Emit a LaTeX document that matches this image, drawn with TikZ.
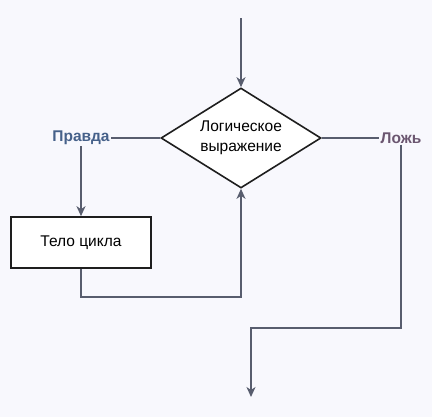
\documentclass[tikz,border=0pt]{standalone}
\usepackage{fontspec}
\setmainfont{Liberation Sans}
\usetikzlibrary{arrows.meta,shapes.geometric}
\definecolor{bg}{HTML}{F8F8FD}
\definecolor{ln}{HTML}{585D6E}
\definecolor{tru}{HTML}{46618A}
\definecolor{fal}{HTML}{6B5670}
\definecolor{bd}{HTML}{1E1E1E}
\tikzset{
  conn/.style={draw=ln, line width=1.6bp},
  arr/.style={conn, -{Stealth[length=10bp,width=9bp,inset=3bp]}},
  lbl/.style={font=\fontsize{15.5bp}{18bp}\selectfont\bfseries, inner sep=1bp, fill=bg},
  box/.style={draw=bd, fill=white, line width=1.6bp},
  txt/.style={font=\fontsize{15.5bp}{20bp}\selectfont, align=center, inner sep=0pt}
}
\begin{document}
\begin{tikzpicture}[x=1bp,y=-1bp]
\useasboundingbox[fill=bg] (0,0) rectangle (432,417);
\coordinate (top) at (241,18);
\node[box, diamond, minimum width=160bp, minimum height=100bp, inner sep=0pt] (d) at (241,138) {};
\node[txt] (dt) at (d.center) {Логическое\\выражение};
\node[lbl, text=tru] (t) at (81,138) {Правда};
\node[lbl, text=fal] (f) at (401,138) {Ложь};
\node[box, txt, minimum width=140bp, minimum height=51bp] (b) at (81,242.5) {Тело цикла};
\coordinate (exit) at (251,397);
\draw[arr] (top) -- (d.north);
\draw[conn] (d.west) -- (t.east);
\draw[arr] (t.south) -- (b.north);
\draw[arr] (b.south) -- (81,297) -- (241,297) -- (d.south);
\draw[conn] (d.east) -- (f.west);
\draw[arr] (f.south) -- (401,328) -- (251,328) -- (exit);
\end{tikzpicture}
\end{document}
